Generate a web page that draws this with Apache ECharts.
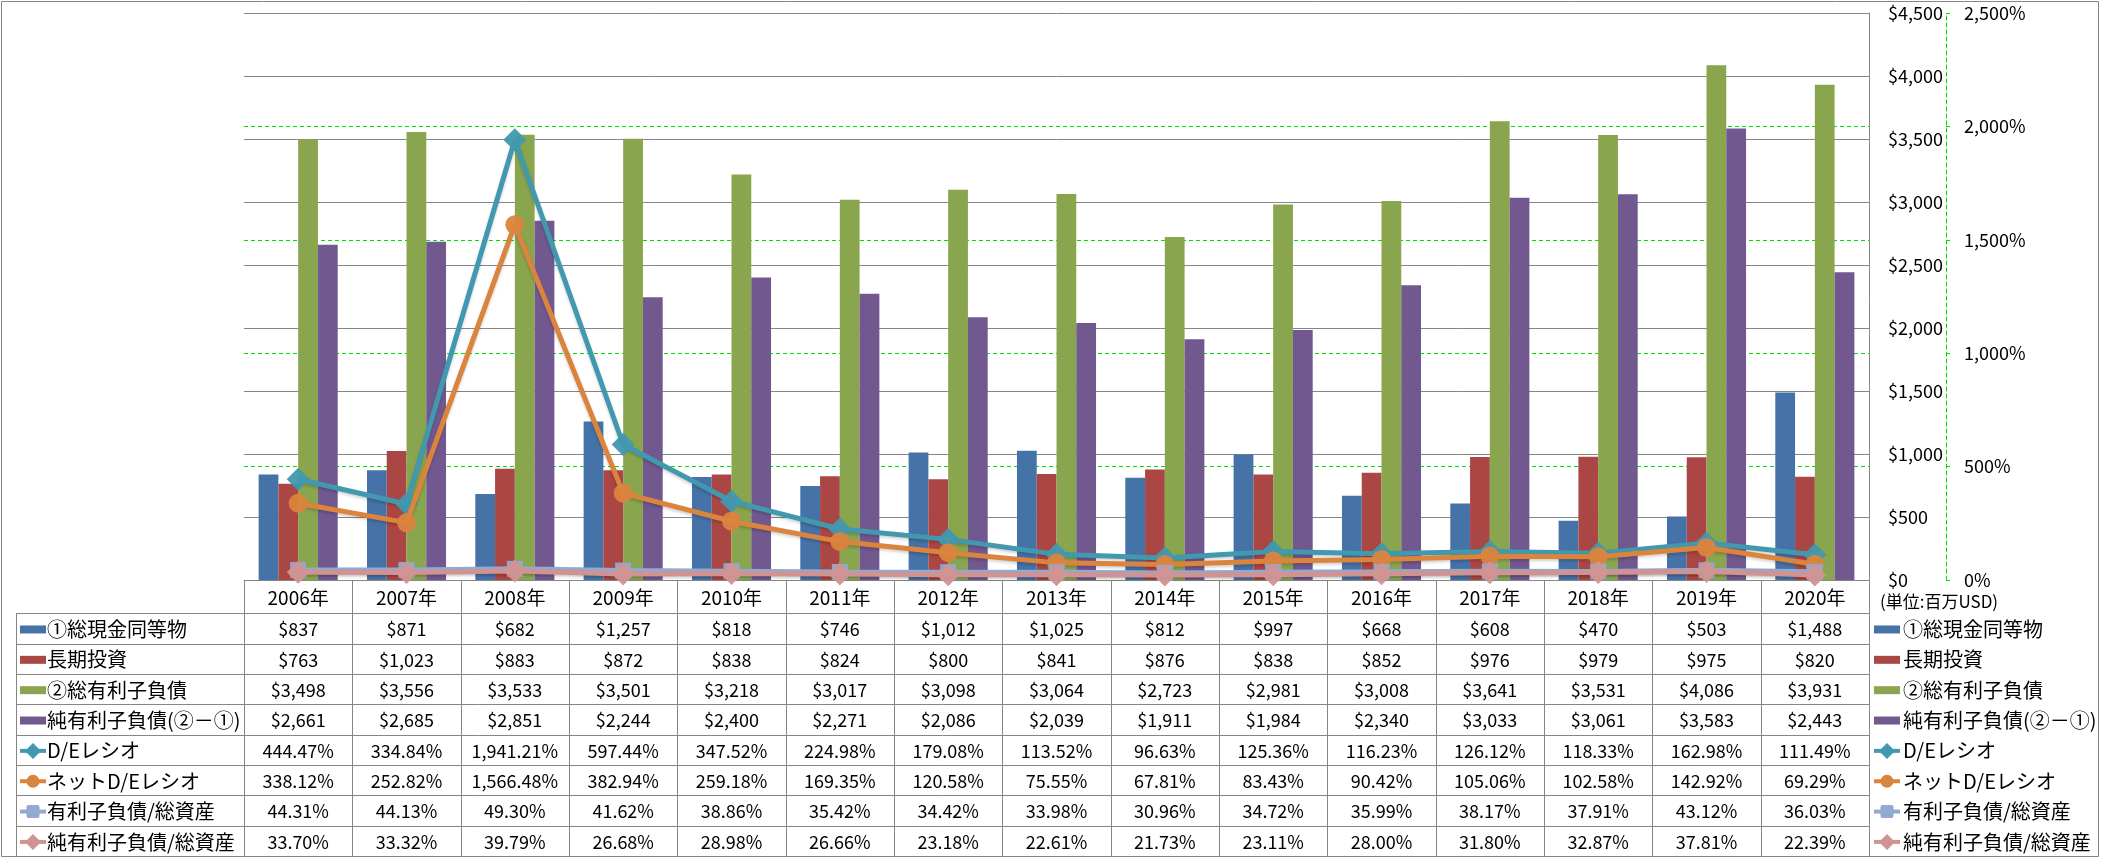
<!DOCTYPE html>
<html><head><meta charset="utf-8">
<script src="https://cdn.jsdelivr.net/npm/echarts@6/dist/echarts.min.js"></script>
<style>html,body{margin:0;padding:0;background:#fff}#c{width:2101px;height:858px}</style>
</head><body><div id="c"></div>
<script>
// ---- data ----
const years = ['2006年','2007年','2008年','2009年','2010年','2011年','2012年','2013年','2014年','2015年','2016年','2017年','2018年','2019年','2020年'];
const cash = [837, 871, 682, 1257, 818, 746, 1012, 1025, 812, 997, 668, 608, 470, 503, 1488];
const longTermInvest = [763, 1023, 883, 872, 838, 824, 800, 841, 876, 838, 852, 976, 979, 975, 820];
const totalDebt = [3498, 3556, 3533, 3501, 3218, 3017, 3098, 3064, 2723, 2981, 3008, 3641, 3531, 4086, 3931];
const netDebt = [2661, 2685, 2851, 2244, 2400, 2271, 2086, 2039, 1911, 1984, 2340, 3033, 3061, 3583, 2443];
const deRatio = [444.47, 334.84, 1941.21, 597.44, 347.52, 224.98, 179.08, 113.52, 96.63, 125.36, 116.23, 126.12, 118.33, 162.98, 111.49];
const netDeRatio = [338.12, 252.82, 1566.48, 382.94, 259.18, 169.35, 120.58, 75.55, 67.81, 83.43, 90.42, 105.06, 102.58, 142.92, 69.29];
const debtToAssets = [44.31, 44.13, 49.30, 41.62, 38.86, 35.42, 34.42, 33.98, 30.96, 34.72, 35.99, 38.17, 37.91, 43.12, 36.03];
const netDebtToAssets = [33.70, 33.32, 39.79, 26.68, 28.98, 26.66, 23.18, 22.61, 21.73, 23.11, 28.00, 31.80, 32.87, 37.81, 22.39];
const seriesNames = ['①総現金同等物','長期投資','②総有利子負債','純有利子負債(②－①)','D/Eレシオ','ネットD/Eレシオ','有利子負債/総資産','純有利子負債/総資産'];
const usdAxis = {min: 0, max: 4500, step: 500};
const pctAxis = {min: 0, max: 2500, step: 500};
const unitLabel = '(単位:百万USD)';

// ---- style ----
const FONT = "'Noto Sans CJK JP','Noto Sans',sans-serif";
const barColors = ['#4572A7','#AA4643','#89A54E','#71588F'];
const lineColors = ['#4198AF','#DB843D','#93A9CF','#D19392'];
const lineSymbols = ['diamond','circle','rect','diamond'];
const lineSymbolSizes = [23, 19, 16, 23];
const GRID = '#868686';
const GREEN = '#00E000';

const barData = [cash, longTermInvest, totalDebt, netDebt];
const lineData = [deRatio, netDeRatio, debtToAssets, netDebtToAssets];

const chart = echarts.init(document.getElementById('c'), null, {renderer: 'canvas'});
const fmtUsd = v => '$' + v.toLocaleString('en-US');
const fmtPct2 = v => v.toLocaleString('en-US', {minimumFractionDigits: 2, maximumFractionDigits: 2}) + '%';

const series = [];
barData.forEach((d, i) => series.push({
  name: seriesNames[i], type: 'bar', data: d, yAxisIndex: 0,
  barGap: '0%', barCategoryGap: '27%', itemStyle: {color: barColors[i]}, z: 2
}));
lineData.forEach((d, i) => series.push({
  name: seriesNames[4 + i], type: 'line', data: d, yAxisIndex: 1,
  symbol: lineSymbols[i], symbolSize: lineSymbolSizes[i], showAllSymbol: true,
  lineStyle: {color: lineColors[i], width: 5, shadowColor: 'rgba(0,0,0,0.18)', shadowBlur: 3, shadowOffsetY: 2},
  itemStyle: {color: lineColors[i], opacity: 0.95}, z: 3 + i
}));

chart.setOption({
  animation: false,
  textStyle: {fontFamily: FONT},
  grid: {left: 244, right: 232, top: 13, bottom: 278},
  xAxis: {
    type: 'category', data: years, boundaryGap: true,
    axisLine: {lineStyle: {color: GRID, width: 1}},
    axisTick: {show: false}, axisLabel: {show: false}, splitLine: {show: false}
  },
  yAxis: [{
    type: 'value', position: 'right', min: usdAxis.min, max: usdAxis.max, interval: usdAxis.step,
    axisLine: {show: true, lineStyle: {color: GRID, width: 1}},
    axisTick: {show: false},
    axisLabel: {margin: 19, fontSize: 18, color: '#000', fontFamily: FONT, formatter: v => fmtUsd(v)},
    splitLine: {show: true, lineStyle: {color: GRID, width: 1}}
  }, {
    type: 'value', position: 'right', offset: 77, min: pctAxis.min, max: pctAxis.max, interval: pctAxis.step,
    axisLine: {show: true, lineStyle: {color: GREEN, width: 1, type: [4, 3]}},
    axisTick: {show: true, length: 4, lineStyle: {color: GREEN}},
    axisLabel: {margin: 18, fontSize: 18, color: '#000', fontFamily: FONT, formatter: v => v.toLocaleString('en-US') + '%'},
    splitLine: {show: true, showMaxLine: false, showMinLine: false, lineStyle: {color: GREEN, width: 1, type: [4, 3]}}
  }],
  series: series
});

// ---- data table under the plot, positioned from the axis scale ----
const p0 = chart.convertToPixel({gridIndex: 0}, [0, 0]);
const p1 = chart.convertToPixel({gridIndex: 0}, [1, 0]);
const colW = p1[0] - p0[0];
const tableTop = p0[1];
const headerH = 33.3;
const rowH = 30.35;
const labelLeft = 16;
const firstCol = p0[0] - colW / 2;
const lastCol = firstCol + colW * years.length;
const headerBottom = tableTop + headerH;
const tableBottom = headerBottom + rowH * seriesNames.length;
const legendX = lastCol + 5;

const g = [];
const line = (x1, y1, x2, y2) => g.push({type: 'line', shape: {x1, y1, x2, y2}, style: {stroke: GRID, lineWidth: 1}, z: 0});
const text = (t, x, y, align, size) => g.push({type: 'text', z: 1, style: {
  text: t, x, y, align: align, textAlign: align, verticalAlign: 'middle', textVerticalAlign: 'middle',
  font: size + 'px ' + FONT, fill: '#000'}});

// vertical lines
for (let i = 0; i <= years.length; i++) {
  const x = Math.round(firstCol + colW * i) + 0.5;
  line(x, tableTop, x, tableBottom);
}
line(labelLeft + 0.5, headerBottom, labelLeft + 0.5, tableBottom);
// horizontal lines
for (let r = 0; r <= seriesNames.length; r++) {
  const y = Math.round(headerBottom + rowH * r) + 0.5;
  line(labelLeft, y, lastCol, y);
}
// header
years.forEach((y, i) => text(y, firstCol + colW * (i + 0.5), tableTop + headerH / 2 + 1, 'center', 19));

// key icon
function key(x, cy, idx) {
  if (idx < 4) {
    g.push({type: 'rect', z: 1, shape: {x: x, y: cy - 4, width: 26, height: 8}, style: {fill: barColors[idx]}});
  } else {
    const k = idx - 4, c = lineColors[k], mx = x + 13;
    g.push({type: 'line', z: 1, shape: {x1: x, y1: cy, x2: x + 26, y2: cy}, style: {stroke: c, lineWidth: 4}});
    if (lineSymbols[k] === 'diamond') {
      g.push({type: 'polygon', z: 1, shape: {points: [[mx, cy - 8], [mx + 8, cy], [mx, cy + 8], [mx - 8, cy]]}, style: {fill: c}});
    } else if (lineSymbols[k] === 'circle') {
      g.push({type: 'circle', z: 1, shape: {cx: mx, cy: cy, r: 6.5}, style: {fill: c}});
    } else {
      g.push({type: 'rect', z: 1, shape: {x: mx - 6.5, y: cy - 6.5, width: 13, height: 13, r: 2}, style: {fill: c}});
    }
  }
}

const allData = barData.concat(lineData);
seriesNames.forEach((name, r) => {
  const cy = headerBottom + rowH * (r + 0.5) + 1;
  key(labelLeft + 4, cy, r);
  text(name, labelLeft + 31, cy, 'left', 20);
  allData[r].forEach((v, i) => text(r < 4 ? fmtUsd(v) : fmtPct2(v), firstCol + colW * (i + 0.5), cy, 'center', 18));
  key(legendX, cy, r);
  text(name, legendX + 29, cy, 'left', 20);
});
text(unitLabel, legendX + 6, tableTop + headerH / 2 + 5, 'left', 17);
// outer border
g.push({type: 'rect', z: 0, shape: {x: 1.5, y: 1.5, width: 2097, height: 855}, style: {fill: 'none', stroke: GRID, lineWidth: 1}});

chart.setOption({graphic: {elements: g}});
</script></body></html>
